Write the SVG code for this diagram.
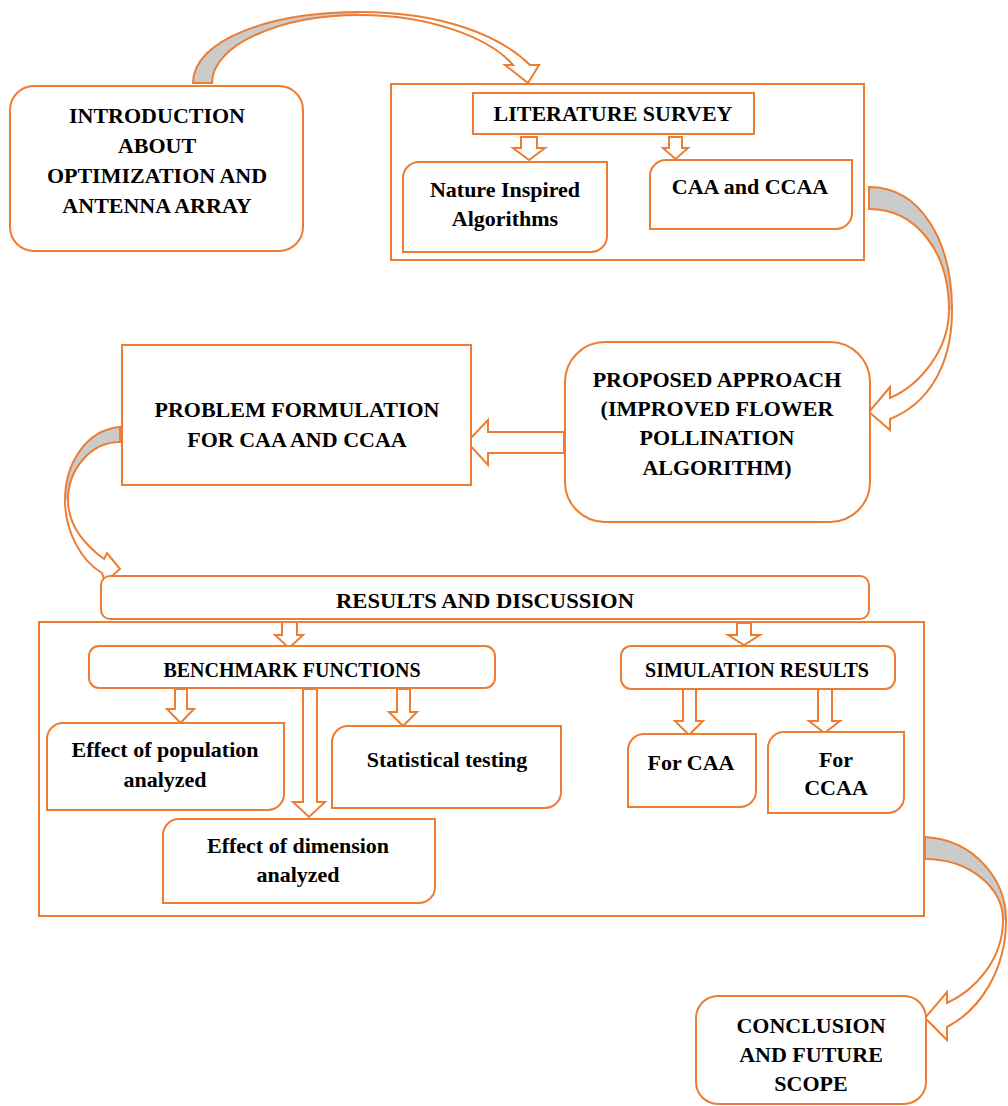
<svg xmlns="http://www.w3.org/2000/svg" width="1008" height="1106" viewBox="0 0 1008 1106">
  <defs>
    <style>
      .box { fill: #ffffff; stroke: #ED7D31; stroke-width: 2; }
      .blk { fill: #ffffff; stroke: #ED7D31; stroke-width: 2; stroke-linejoin: miter; }
      text { font-family: 'Liberation Serif', 'DejaVu Serif', serif; font-weight: 700; font-size: 22px; fill: #000000; text-anchor: middle; }
      .s { font-size: 20px; }
    </style>
    <!-- curved arrows: shaded back face on the first half, white front face after -->
    <linearGradient id="gTop" gradientUnits="userSpaceOnUse" x1="180" y1="0" x2="560" y2="0">
      <stop offset="0.47" stop-color="#CBCBCB"/>
      <stop offset="0.47" stop-color="#ffffff"/>
    </linearGradient>
    <linearGradient id="gRight" gradientUnits="userSpaceOnUse" x1="0" y1="180" x2="0" y2="440">
      <stop offset="0.5" stop-color="#CBCBCB"/>
      <stop offset="0.5" stop-color="#ffffff"/>
    </linearGradient>
    <linearGradient id="gLeft" gradientUnits="userSpaceOnUse" x1="0" y1="420" x2="0" y2="590">
      <stop offset="0.47" stop-color="#CBCBCB"/>
      <stop offset="0.47" stop-color="#ffffff"/>
    </linearGradient>
    <linearGradient id="gBottom" gradientUnits="userSpaceOnUse" x1="0" y1="830" x2="0" y2="1045">
      <stop offset="0.42" stop-color="#CBCBCB"/>
      <stop offset="0.42" stop-color="#ffffff"/>
    </linearGradient>
  </defs>

  <rect x="0" y="0" width="1008" height="1106" fill="#ffffff"/>

  <!-- container frames -->
  <g id="literature-frame">
    <rect class="box" x="391" y="84" width="473" height="176"/>
  </g>
  <g id="results-frame">
    <rect class="box" x="39" y="622" width="885" height="294"/>
  </g>

  <!-- connectors -->
  <g id="connectors">
    <path fill="url(#gTop)" stroke="#ED7D31" stroke-width="2" stroke-linejoin="miter"
      d="M193,83 C193,40 270,12 360,12 C440,12 500,35 530,65 L539,65 L528,83 L505,65 L513,65 C490,38 430,15 360,15 C280,15 212,45 212,83 Z"/>
    <path fill="url(#gRight)" stroke="#ED7D31" stroke-width="2" stroke-linejoin="miter"
      d="M869,187 C920,187 952,240 952,310 C952,370 925,405 890,419 L890,430 L869,412 L890,387 L890,398 C920,385 949,350 949,310 C949,250 915,209 869,209 Z"/>
    <path fill="url(#gLeft)" stroke="#ED7D31" stroke-width="2" stroke-linejoin="miter"
      d="M120,427 C85,430 65,465 65,500 C65,530 80,560 102,573 L105,582 L120,569 L107,553 L104,559 C85,545 68,525 68,500 C68,470 90,442 120,442 Z"/>
    <path fill="url(#gBottom)" stroke="#ED7D31" stroke-width="2" stroke-linejoin="miter"
      d="M925,837 C975,840 1006,880 1006,920 C1006,970 980,1010 947,1027 L947,1040 L925,1018 L947,992 L947,1003 C975,990 1003,960 1003,920 C1003,888 970,859 925,859 Z"/>

    <!-- block arrows -->
    <path class="blk" d="M564,432 H488 V420 L467,442 L488,465 V453 H564 Z"/>
    <path class="blk" d="M521,137 H537 V148 H545 L529,160 L513,148 H521 Z"/>
    <path class="blk" d="M669,137 H682 V148 H688 L675.5,159 L663,148 H669 Z"/>
    <path class="blk" d="M282,622 H297 V635 H303 L289,648 L275,635 H282 Z"/>
    <path class="blk" d="M737,623 H751 V635 H760 L744,645 L728,635 H737 Z"/>
    <path class="blk" d="M175,689 H187 V709 H194 L180.5,723 L167,709 H175 Z"/>
    <path class="blk" d="M303,689 H317 V802 H325 L309,817 L293,802 H303 Z"/>
    <path class="blk" d="M397,689 H410 V712 H417 L403,726 L389,712 H397 Z"/>
    <path class="blk" d="M683,689 H696 V721 H703 L689,735 L675,721 H683 Z"/>
    <path class="blk" d="M818,689 H832 V721 H840 L824.5,733 L809,721 H818 Z"/>
  </g>

  <!-- nodes -->
  <g id="introduction">
    <rect class="box" x="10" y="86" width="293" height="165" rx="24"/>
    <text x="157" y="123">INTRODUCTION</text>
    <text x="157" y="153">ABOUT</text>
    <text x="157" y="183">OPTIMIZATION AND</text>
    <text x="157" y="213">ANTENNA ARRAY</text>
  </g>

  <g id="literature-survey">
    <rect class="box" x="473" y="93" width="281" height="41"/>
    <text x="613" y="121">LITERATURE SURVEY</text>
  </g>

  <g id="nature-inspired">
    <path class="box" d="M403,178 A16,16 0 0 1 419,162 H607 V236 A16,16 0 0 1 591,252 H403 Z"/>
    <text x="505" y="197">Nature Inspired</text>
    <text x="505" y="226">Algorithms</text>
  </g>

  <g id="caa-ccaa">
    <path class="box" d="M650,176 A16,16 0 0 1 666,160 H852 V213 A16,16 0 0 1 836,229 H650 Z"/>
    <text x="750" y="194">CAA and CCAA</text>
  </g>

  <g id="proposed-approach">
    <rect class="box" x="565" y="342" width="305" height="180" rx="40"/>
    <text x="717" y="387">PROPOSED APPROACH</text>
    <text x="717" y="416">(IMPROVED FLOWER</text>
    <text x="717" y="445">POLLINATION</text>
    <text x="717" y="475">ALGORITHM)</text>
  </g>

  <g id="problem-formulation">
    <rect class="box" x="122" y="345" width="349" height="140"/>
    <text x="297" y="417">PROBLEM FORMULATION</text>
    <text x="297" y="447">FOR CAA AND CCAA</text>
  </g>

  <g id="results-discussion">
    <rect class="box" x="101" y="576" width="768" height="43" rx="9"/>
    <text x="485" y="608" textLength="298" lengthAdjust="spacingAndGlyphs">RESULTS AND DISCUSSION</text>
  </g>

  <g id="benchmark-functions">
    <rect class="box" x="89" y="646" width="406" height="42" rx="10"/>
    <text class="s" x="292" y="677">BENCHMARK FUNCTIONS</text>
  </g>

  <g id="effect-population">
    <path class="box" d="M47,739 A16,16 0 0 1 63,723 H284 V794 A16,16 0 0 1 268,810 H47 Z"/>
    <text x="165" y="757">Effect of population</text>
    <text x="165" y="787">analyzed</text>
  </g>

  <g id="statistical-testing">
    <path class="box" d="M332,742 A16,16 0 0 1 348,726 H561 V792 A16,16 0 0 1 545,808 H332 Z"/>
    <text x="447" y="767">Statistical testing</text>
  </g>

  <g id="effect-dimension">
    <path class="box" d="M163,835 A16,16 0 0 1 179,819 H435 V887 A16,16 0 0 1 419,903 H163 Z"/>
    <text x="298" y="853">Effect of dimension</text>
    <text x="298" y="882">analyzed</text>
  </g>

  <g id="simulation-results">
    <rect class="box" x="621" y="646" width="274" height="43" rx="10"/>
    <text class="s" x="757" y="677">SIMULATION RESULTS</text>
  </g>

  <g id="for-caa">
    <path class="box" d="M628,750 A16,16 0 0 1 644,734 H756 V791 A16,16 0 0 1 740,807 H628 Z"/>
    <text x="691" y="770">For CAA</text>
  </g>

  <g id="for-ccaa">
    <path class="box" d="M768,748 A16,16 0 0 1 784,732 H904 V797 A16,16 0 0 1 888,813 H768 Z"/>
    <text x="836" y="767">For</text>
    <text x="836" y="795">CCAA</text>
  </g>

  <g id="conclusion">
    <rect class="box" x="696" y="996" width="230" height="108" rx="22"/>
    <text x="811" y="1033">CONCLUSION</text>
    <text x="811" y="1062">AND FUTURE</text>
    <text x="811" y="1091">SCOPE</text>
  </g>
</svg>
